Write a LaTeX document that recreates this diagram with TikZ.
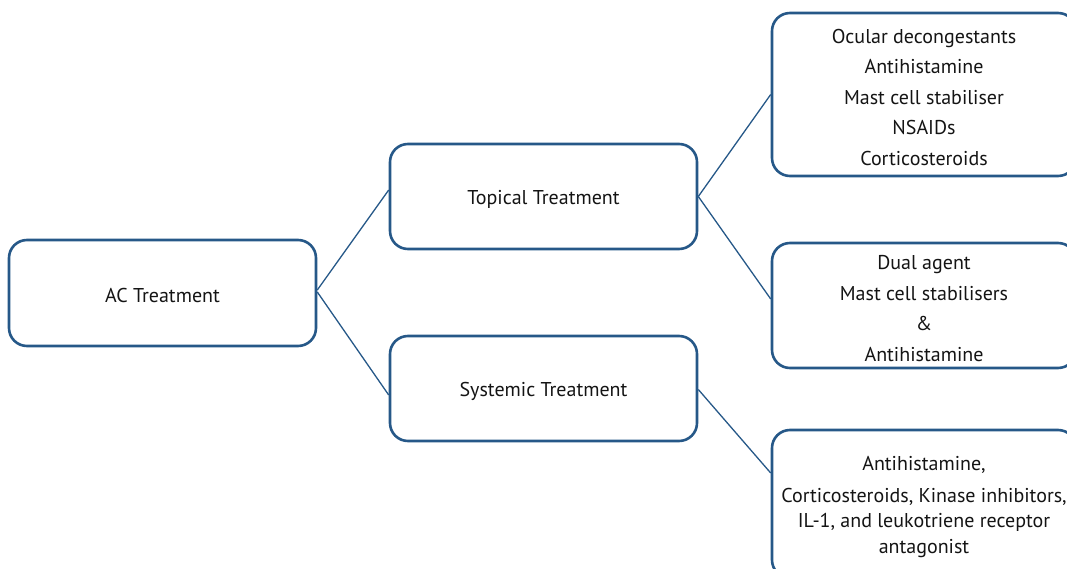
\documentclass[tikz,border=0pt]{standalone}
\usepackage{fontspec}
\setmainfont{PT Sans}
\definecolor{bx}{RGB}{38,88,136}
\definecolor{tx}{RGB}{20,20,20}
\newcommand\lowr{\rule{0pt}{20pt}}
\begin{document}
\begin{tikzpicture}[x=1pt,y=-1pt,
  box/.style={draw=bx, line width=2.6pt, rounded corners=18pt, align=center,
    inner sep=0pt, text=tx, font=\fontsize{20}{30.5}\selectfont},
  link/.style={draw=bx, line width=1.3pt}]
\useasboundingbox (0,0) rectangle (1067,569);
\clip (0,0) rectangle (1067,569);
\node[box, minimum width=307pt, minimum height=106pt] (ac) at (162.5,293) {\lowr AC Treatment};
\node[box, minimum width=307pt, minimum height=105pt] (top) at (543.5,196.5) {\lowr Topical Treatment};
\node[box, minimum width=307pt, minimum height=105pt] (sys) at (543.5,388.5) {\lowr Systemic Treatment};
\node[box, minimum width=304pt, minimum height=163pt] (r1) at (924,94.5)
  {\lowr Ocular decongestants\\Antihistamine\\Mast cell stabiliser\\NSAIDs\\Corticosteroids};
\node[box, minimum width=304pt, minimum height=125pt] (r2) at (924,305.5)
  {\lowr Dual agent\\Mast cell stabilisers\\\&\\Antihistamine};
\node[box, minimum width=304pt, minimum height=148pt, font=\fontsize{20}{25.5}\selectfont] (r3) at (924,504)
  {\lowr Antihistamine,\\[6pt]Corticosteroids, Kinase inhibitors,\\IL-1, and leukotriene receptor\\antagonist};
\draw[link] ([yshift=3pt]ac.east) -- ([yshift=6.5pt]top.west);
\draw[link] ([yshift=1pt]ac.east) -- ([yshift=-6.5pt]sys.west);
\draw[link] (top.east) -- (r1.west);
\draw[link] (top.east) -- ([yshift=6.5pt]r2.west);
\draw[link] ([yshift=-1pt]sys.east) -- ([yshift=31pt]r3.west);
\end{tikzpicture}
\end{document}
